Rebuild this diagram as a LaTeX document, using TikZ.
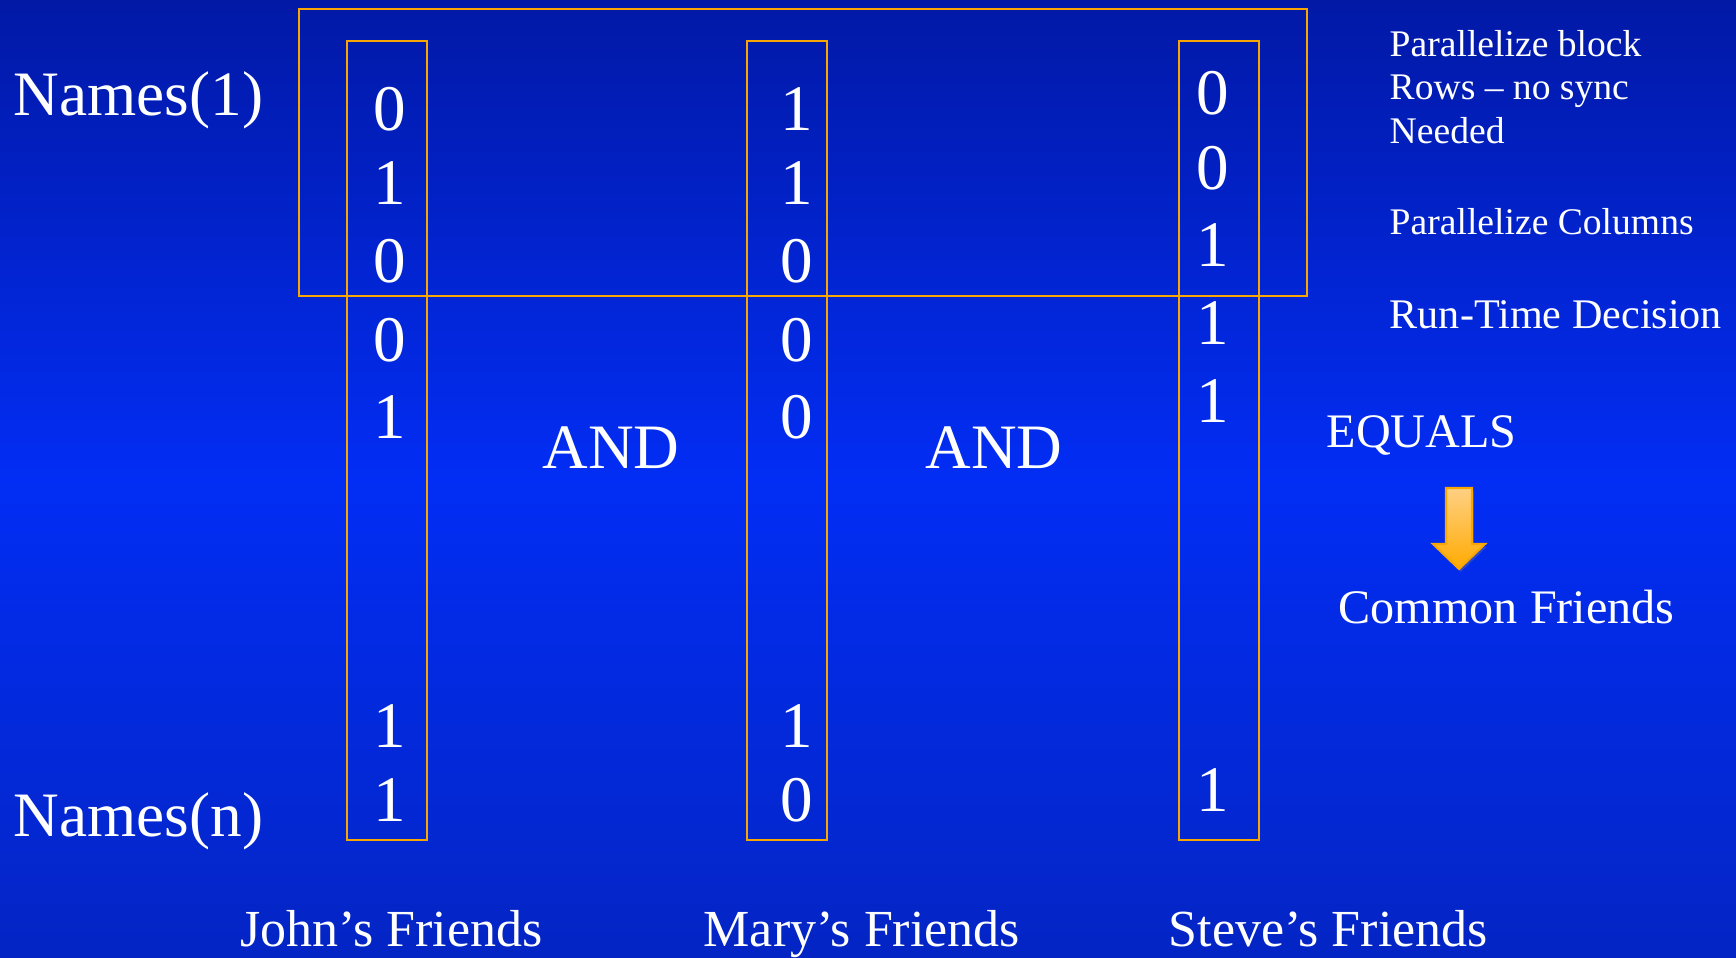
\documentclass[tikz,border=0pt]{standalone}
\usepackage{fontspec}
\setmainfont{Liberation Serif}
\usetikzlibrary{shadows}
\definecolor{bgtop}{HTML}{0219A6}
\definecolor{bgmid}{HTML}{022DF4}
\definecolor{bgbot}{HTML}{0425C4}
\definecolor{boxline}{HTML}{F9A602}
\definecolor{arrowtop}{HTML}{FFD084}
\definecolor{arrowbot}{HTML}{FFAA00}

\begin{document}
\begin{tikzpicture}[x=0.1mm, y=-0.1mm,
  box/.style={draw=boxline, line width=0.8pt},
  bit/.style={text=white, inner sep=0pt, anchor=base, font=\fontsize{18.5}{20}\selectfont},
  big/.style={text=white, inner sep=0pt, font=\fontsize{18}{20}\selectfont},
  mid/.style={text=white, inner sep=0pt, font=\fontsize{13.7}{16}\selectfont},
  note/.style={text=white, inner sep=0pt, anchor=base west, font=\fontsize{10.7}{12.5}\selectfont},
  who/.style={text=white, inner sep=0pt, anchor=base west, font=\fontsize{14.8}{17}\selectfont}]

  % Background (dark at top, bright in the middle)
  \useasboundingbox (0,0) rectangle (1736,958);
  \shade[top color=bgtop, bottom color=bgmid] (0,0) rectangle (1736,480);
  \shade[top color=bgmid, bottom color=bgbot] (0,479) rectangle (1736,958);

  % Block of rows and the three columns
  \draw[box] (299,9) rectangle (1307,296);
  \draw[box] (347,41) rectangle (427,840);
  \draw[box] (747,41) rectangle (827,840);
  \draw[box] (1179,41) rectangle (1259,840);

  % Row labels
  \node[big, anchor=base west] (first) at (13,116) {Names(1)};
  \node[big, anchor=base west] (last) at (13,836) {Names(n)};

  % Bits of each column
  \foreach \y/\d in {131/0, 205/1, 283/0, 362/0, 439/1, 747/1, 821/1}
    \node[bit] (john\y) at (390,\y) {\d};
  \foreach \y/\d in {131/1, 205/1, 283/0, 362/0, 439/0, 747/1, 821/0}
    \node[bit] (mary\y) at (797,\y) {\d};
  \foreach \y/\d in {115/0, 190/0, 267/1, 345/1, 423/1, 811/1}
    \node[bit] (steve\y) at (1213,\y) {\d};

  % Operators
  \node[big] (and1) at (611,448) {AND};
  \node[big] (and2) at (994,448) {AND};

  % Notes on the right
  \node[note] (par1) at (1389,57) {Parallelize block};
  \node[note] (par2) at (1389,100) {Rows – no sync};
  \node[note] (par3) at (1389,144) {Needed};
  \node[note] (parcol) at (1389,235) {Parallelize Columns};
  \node[note, font=\fontsize{12}{14}\selectfont] (runtime) at (1389,329) {Run-Time Decision};

  \node[mid, anchor=west] (equals) at (1326,435) {EQUALS};
  \node[mid, anchor=west] (common) at (1338,607) {Common Friends};

  % Block arrow from EQUALS down to the result
  \shadedraw[top color=arrowtop, bottom color=arrowbot, draw=boxline, line width=0.6pt,
    drop shadow={opacity=0.35, shadow xshift=0.5pt, shadow yshift=-0.8pt}]
    (1446,488) -- (1472,488) -- (1472,544) -- (1485,544) -- (1459,569)
    -- (1433,544) -- (1446,544) -- cycle;

  % Column captions
  \node[who] (john) at (240,946) {John’s Friends};
  \node[who] (mary) at (703,946) {Mary’s Friends};
  \node[who] (steve) at (1168,946) {Steve’s Friends};
\end{tikzpicture}
\end{document}
